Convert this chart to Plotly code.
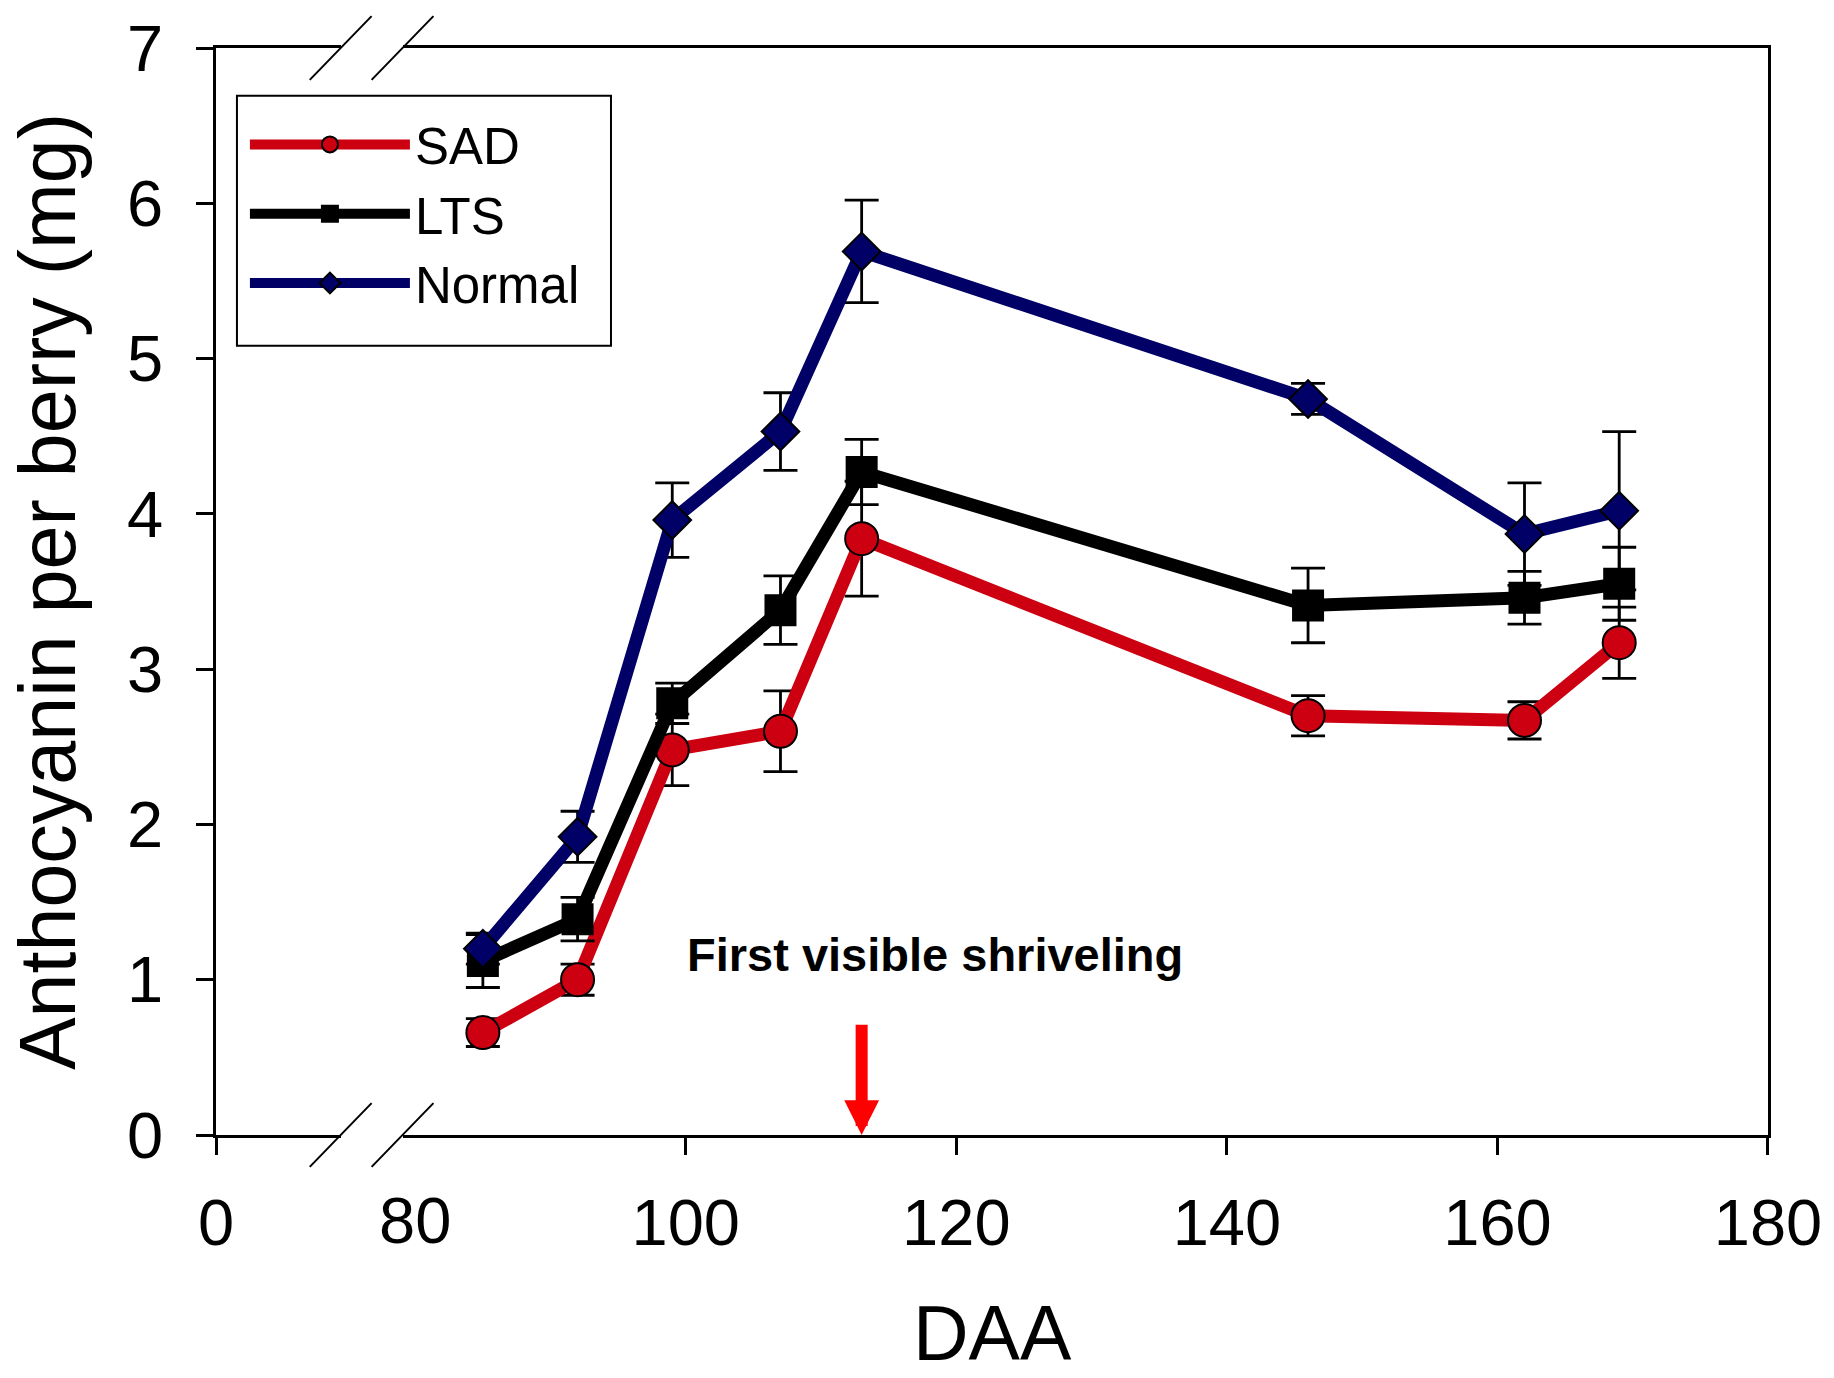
import plotly.graph_objects as go

# ---- data ----
daa = [85, 92, 99, 107, 113, 146, 162, 169]
sad = [0.66, 1.00, 2.48, 2.60, 3.84, 2.70, 2.67, 3.17]
sad_err = [0.09, 0.10, 0.23, 0.26, 0.37, 0.13, 0.12, 0.23]
lts = [1.12, 1.39, 2.78, 3.38, 4.27, 3.41, 3.46, 3.55]
lts_err = [0.17, 0.14, 0.13, 0.22, 0.21, 0.24, 0.17, 0.235]
normal = [1.20, 1.92, 3.96, 4.53, 5.69, 4.74, 3.87, 4.02]
normal_err = [0.10, 0.165, 0.24, 0.25, 0.33, 0.10, 0.33, 0.51]

left_ticks = [0]
right_ticks = [100, 120, 140, 160, 180]
break_label_tick = [80]
y_ticks = [0, 1, 2, 3, 4, 5, 6, 7]
shrivel_day = 113

# ---- layout geometry ----
W, H = 1834, 1378
ML, MR, MT, MB = 216, 62, 43, 243
PW = W - ML - MR
PH = H - MT - MB
gap_l = (341 - ML) / PW
gap_r = (403 - ML) / PW


def px_x(p):
    return (p - ML) / PW


def px_y(p):
    return (MT + PH - p) / PH


FONT = "Liberation Sans, Arial, sans-serif"
RED = "#CC0011"
NAVY = "#000066"

fig = go.Figure()

# empty helper traces so that every axis segment is registered and drawn
for xa, ya in (("x", "y"), ("x3", "y"), ("x2", "y2")):
    fig.add_trace(go.Scatter(x=[], y=[], xaxis=xa, yaxis=ya, showlegend=False,
                             hoverinfo="skip", mode="markers"))

series = [
    ("SAD", sad, sad_err, RED, "circle", 33),
    ("LTS", lts, lts_err, "black", "square", 30),
    ("Normal", normal, normal_err, NAVY, "diamond", 29),
]
for name, vals, errs, col, sym, sz in series:
    fig.add_trace(go.Scatter(
        x=daa, y=vals, name=name, mode="lines+markers",
        xaxis="x2", yaxis="y",
        line=dict(color=col, width=13),
        marker=dict(symbol=sym, size=sz, color=col, line=dict(color="black", width=2)),
        error_y=dict(type="data", array=errs, visible=True, color="black", thickness=2.8, width=17),
    ))

axis_common = dict(
    showline=True, linecolor="black", linewidth=2.5,
    ticks="outside", ticklen=17, tickwidth=2.5, tickcolor="black",
    showgrid=False, zeroline=False,
    tickfont=dict(family=FONT, size=65, color="black"),
)

fig.update_layout(
    width=W, height=H,
    margin=dict(l=ML, r=MR, t=MT, b=MB),
    paper_bgcolor="white", plot_bgcolor="white",
    font=dict(family=FONT, color="black"),
    xaxis=dict(domain=[0, gap_l], range=[0, 9.2], tickvals=left_ticks, anchor="y",
               mirror=True, ticklabelstandoff=12, **axis_common),
    xaxis2=dict(domain=[gap_r, 1], range=[79.06, 180], tickvals=right_ticks, anchor="y",
                mirror=True, ticklabelstandoff=12, **axis_common),
    xaxis3=dict(overlaying="x2", range=[79.06, 180], tickvals=break_label_tick, anchor="y",
                showline=False, showgrid=False, zeroline=False, ticks="outside", ticklen=17,
                tickcolor="rgba(0,0,0,0)", ticklabelstandoff=12,
                tickfont=dict(family=FONT, size=65, color="black")),
    yaxis=dict(domain=[0, 1], range=[0, 7], tickvals=y_ticks, anchor="x",
               ticklabelstandoff=20,
               title=dict(text="Anthocyanin per berry (mg)", font=dict(family=FONT, size=79), standoff=26),
               **axis_common),
    yaxis2=dict(overlaying="y", matches="y", anchor="x2", side="right", showline=True,
                linecolor="black", linewidth=2.5, ticks="", showticklabels=False,
                showgrid=False, zeroline=False),
    legend=dict(x=px_x(245), y=px_y(100), xanchor="left", yanchor="top",
                bgcolor="rgba(0,0,0,0)", borderwidth=0,
                font=dict(family=FONT, size=51, color="black"), itemwidth=160,
                tracegroupgap=0),
    showlegend=True,
)

# legend frame
fig.add_shape(type="rect", xref="paper", yref="paper",
              x0=px_x(237), y0=px_y(342), x1=px_x(612), y1=px_y(91),
              line=dict(color="black", width=2), fillcolor="white", layer="below")

# x-axis title centred on whole plot area
fig.add_annotation(text="DAA", xref="paper", yref="paper", x=0.5, y=px_y(1378),
                   yanchor="bottom", borderpad=0, showarrow=False,
                   font=dict(family=FONT, size=77, color="black"))
# text annotation
fig.add_annotation(text="<b>First visible shriveling</b>", xref="x2", yref="y", x=118.4, y=1.16,
                   showarrow=False, font=dict(family=FONT, size=47, color="black"))
# arrow
fig.add_annotation(text="", xref="x2", yref="y", x=shrivel_day, y=0, axref="x2", ayref="y",
                   ax=shrivel_day, ay=0.72, showarrow=True, arrowhead=2, arrowwidth=12,
                   arrowsize=0.58, arrowcolor="#FF0000", standoff=0)

# axis break marks
dx = 31 / PW
dy = 32 / PH
for yb in (0, 1):
    for xb in (gap_l, gap_r):
        fig.add_shape(type="line", xref="paper", yref="paper",
                      x0=xb - dx, y0=yb - dy, x1=xb + dx, y1=yb + dy,
                      line=dict(color="black", width=2))

fig.write_html("out.html")
